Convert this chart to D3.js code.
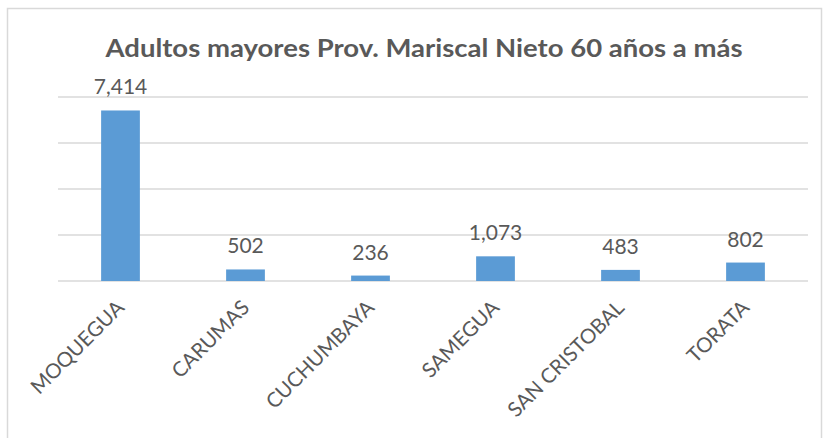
<!DOCTYPE html>
<html>
<head>
<meta charset="utf-8">
<script src="https://cdnjs.cloudflare.com/ajax/libs/d3/7.8.5/d3.min.js"></script>
<style>
  body { margin: 0; background: #ffffff; }
  text { font-family: Lato, "Open Sans", sans-serif; fill: #595959; }
</style>
</head>
<body>
<script>
// data
var districts = ["MOQUEGUA", "CARUMAS", "CUCHUMBAYA", "SAMEGUA", "SAN CRISTOBAL", "TORATA"];
var population = [7414, 502, 236, 1073, 483, 802];
var labels = ["7,414", "502", "236", "1,073", "483", "802"];
var gridTicks = [0, 2000, 4000, 6000, 8000];
var graphTitle = "Adultos mayores Prov. Mariscal Nieto 60 años a más";

// size and padding (note: "top" is taken by window.top)
var w = 825;
var h = 438;
var plotLeft = 58;
var plotRight = 808;
var plotTop = 97;
var baseline = 281;

var barColor = "#5b9bd5";
var gridColor = "#d9d9d9";

// create svg element
var svg = d3.select("body")
            .append("svg")
            .attr("width", w)
            .attr("height", h);

// chart border
svg.append("rect")
   .attr("x", 7.5)
   .attr("y", 8.5)
   .attr("width", 814)
   .attr("height", 440)
   .attr("fill", "none")
   .attr("stroke", gridColor)
   .attr("stroke-width", 1.5);

// scales
var xScale = d3.scaleBand()
               .domain(districts)
               .range([plotLeft, plotRight])
               .paddingInner(0.69)
               .paddingOuter(0.345);

var yScale = d3.scaleLinear()
               .domain([0, 8000])
               .range([baseline, plotTop]);

// horizontal gridlines
svg.selectAll("line.grid")
   .data(gridTicks)
   .enter()
   .append("line")
   .attr("class", "grid")
   .attr("x1", plotLeft)
   .attr("x2", plotRight)
   .attr("y1", function(d) { return yScale(d); })
   .attr("y2", function(d) { return yScale(d); })
   .attr("stroke", gridColor)
   .attr("stroke-width", 1.3);

// bars
svg.selectAll("rect.bar")
   .data(population)
   .enter()
   .append("rect")
   .attr("class", "bar")
   .attr("x", function(d, i) { return xScale(districts[i]); })
   .attr("y", function(d) { return yScale(d); })
   .attr("width", xScale.bandwidth())
   .attr("height", function(d) { return baseline - yScale(d); })
   .attr("fill", barColor);

// value labels above the bars
svg.selectAll("text.value")
   .data(population)
   .enter()
   .append("text")
   .attr("class", "value")
   .attr("x", function(d, i) { return xScale(districts[i]) + xScale.bandwidth() / 2; })
   .attr("y", function(d) { return yScale(d) - 16; })
   .style("text-anchor", "middle")
   .style("font-size", "21px")
   .text(function(d, i) { return labels[i]; });

// rotated category labels
svg.selectAll("text.cat")
   .data(districts)
   .enter()
   .append("text")
   .attr("class", "cat")
   .attr("transform", function(d) {
      var cx = xScale(d) + xScale.bandwidth() / 2 + 5;
      return "translate(" + cx + "," + 309 + ") rotate(-45)";
   })
   .style("text-anchor", "end")
   .style("font-size", "20.5px")
   .text(function(d) { return d; });

// title
svg.append("text")
   .attr("x", 424)
   .attr("y", 57)
   .attr("textLength", 637)
   .attr("lengthAdjust", "spacingAndGlyphs")
   .style("text-anchor", "middle")
   .style("font-size", "24px")
   .style("font-weight", "bold")
   .text(graphTitle);
</script>
</body>
</html>
